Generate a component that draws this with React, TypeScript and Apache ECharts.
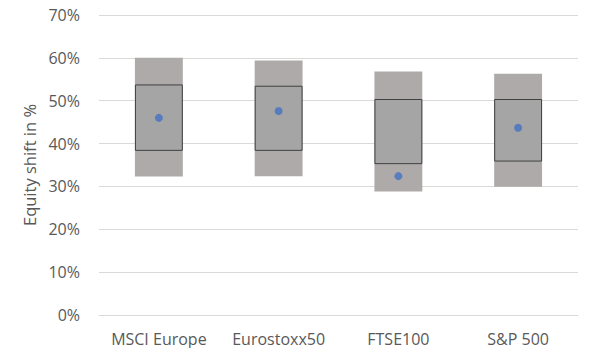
import React, { useEffect, useRef } from "react";
import * as echarts from "echarts";

const categories = ["MSCI Europe", "Eurostoxx50", "FTSE100", "S&P 500"];
const rangeMin = [0.323, 0.324, 0.288, 0.299];
const rangeMax = [0.600, 0.594, 0.568, 0.563];
const boxLow = [0.383, 0.383, 0.352, 0.358];
const boxHigh = [0.538, 0.535, 0.504, 0.504];
const pointValues = [0.460, 0.476, 0.324, 0.437];
const yTicks = [0, 0.1, 0.2, 0.3, 0.4, 0.5, 0.6, 0.7];

const FONT = "'Open Sans', 'Noto Sans', sans-serif";

export default function App() {
  const ref = useRef<HTMLDivElement>(null);
  useEffect(() => {
    if (!ref.current) return;
    const chart = echarts.init(ref.current, null, { renderer: "svg" });
    const outerSpan = rangeMax.map((v, i) => +(v - rangeMin[i]).toFixed(4));
    const innerSpan = boxHigh.map((v, i) => +(v - boxLow[i]).toFixed(4));
    chart.setOption({
      animation: false,
      grid: { left: 99, right: 11, top: 15, bottom: 41 },
      xAxis: {
        type: "category",
        data: categories,
        axisLine: { show: true, lineStyle: { color: "#D9D9D9" } },
        axisTick: { show: false },
        axisLabel: {
          color: "#595959",
          fontSize: 16,
          fontFamily: FONT,
          margin: 16,
          interval: 0,
          hideOverlap: false,
        },
      },
      yAxis: {
        type: "value",
        min: yTicks[0],
        max: yTicks[yTicks.length - 1],
        interval: 0.1,
        name: "Equity shift in %",
        nameLocation: "middle",
        nameGap: 61,
        nameTextStyle: { color: "#595959", fontSize: 16.5, fontFamily: FONT },
        axisLine: { show: false },
        axisTick: { show: false },
        splitLine: { lineStyle: { color: "#D9D9D9" } },
        axisLabel: {
          color: "#595959",
          fontSize: 16,
          fontFamily: FONT,
          margin: 19,
          formatter: (v: number) => Math.round(v * 100) + "%",
        },
      },
      series: [
        {
          type: "bar",
          stack: "outer",
          data: rangeMin,
          barWidth: "40%",
          barGap: "-100%",
          itemStyle: { color: "transparent" },
          silent: true,
        },
        {
          type: "bar",
          stack: "outer",
          data: outerSpan,
          barWidth: "40%",
          barGap: "-100%",
          itemStyle: { color: "#AEAAAA" },
        },
        {
          type: "bar",
          stack: "inner",
          data: boxLow,
          barWidth: "40%",
          barGap: "-100%",
          itemStyle: { color: "transparent" },
          silent: true,
        },
        {
          type: "bar",
          stack: "inner",
          data: innerSpan,
          barWidth: "40%",
          barGap: "-100%",
          itemStyle: { color: "#A5A5A5", borderColor: "#404040", borderWidth: 1 },
        },
        {
          type: "scatter",
          data: pointValues,
          symbolSize: 8,
          itemStyle: { color: "#4472C4" },
          z: 5,
        },
      ],
    });
    return () => chart.dispose();
  }, []);
  return <div ref={ref} style={{ width: 589, height: 356, margin: -8 }} />;
}
